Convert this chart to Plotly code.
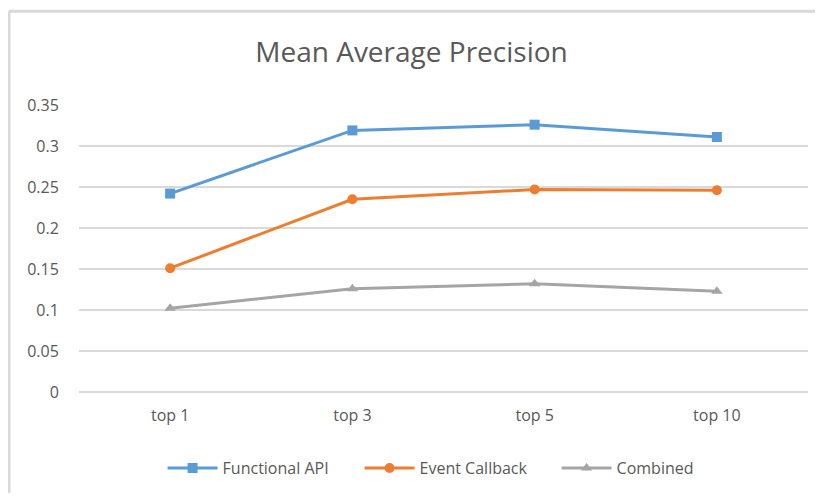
"""Mean Average Precision line chart (Excel style)."""

import plotly.graph_objects as go

# Data
categories = ["top 1", "top 3", "top 5", "top 10"]
functional_api = [0.242, 0.319, 0.326, 0.311]
event_callback = [0.151, 0.235, 0.247, 0.246]
combined = [0.102, 0.126, 0.132, 0.123]
y_ticks = [0, 0.05, 0.1, 0.15, 0.2, 0.25, 0.3, 0.35]
y_tick_labels = ["0", "0.05", "0.1", "0.15", "0.2", "0.25", "0.3", "0.35"]

BLUE = "#5B9BD5"
ORANGE = "#ED7D31"
GRAY = "#A5A5A5"
TEXT = "#595959"
GRID = "#D9D9D9"
FONT = "Open Sans, Lato, sans-serif"

fig = go.Figure()

series = [
    ("Functional API", functional_api, BLUE, "square"),
    ("Event Callback", event_callback, ORANGE, "circle"),
    ("Combined", combined, GRAY, "triangle-up"),
]
for name, vals, color, symbol in series:
    fig.add_trace(go.Scatter(
        x=categories, y=vals, name=name,
        mode="lines+markers",
        line=dict(color=color, width=3),
        marker=dict(color=color, symbol=symbol, size=10),
    ))

# chart border (light gray, only top and left visible)
fig.add_shape(type="line", xref="paper", yref="paper",
              x0=-0.096, x1=1.2, y0=1.3265, y1=1.3265,
              line=dict(color=GRID, width=3))
fig.add_shape(type="line", xref="paper", yref="paper",
              x0=-0.096, x1=-0.096, y0=1.3265, y1=-0.5,
              line=dict(color=GRID, width=3))

# page body adds 8px, so the figure is a bit smaller than the window
fig.update_layout(
    width=807, height=485,
    margin=dict(l=71, r=7, t=97, b=101),
    paper_bgcolor="white",
    plot_bgcolor="white",
    title=dict(text="Mean Average Precision", x=0.5, xanchor="center",
               y=0.909, yanchor="middle",
               font=dict(family=FONT, size=28, color=TEXT)),
    xaxis=dict(
        type="category", range=[-0.5, 3.5],
        showgrid=False, showline=False, zeroline=False,
        tickfont=dict(family=FONT, size=16, color=TEXT),
        ticks="outside", ticklen=9, tickcolor="rgba(0,0,0,0)",
    ),
    yaxis=dict(
        range=[0, 0.35], tickvals=y_ticks, ticktext=y_tick_labels,
        showgrid=True, gridcolor=GRID, gridwidth=1.5,
        zeroline=True, zerolinecolor=GRID, zerolinewidth=1.5,
        showline=False,
        tickfont=dict(family=FONT, size=16, color=TEXT),
        ticks="outside", ticklen=16, tickcolor="rgba(0,0,0,0)",
    ),
    legend=dict(orientation="h", x=0.52, xanchor="center",
                y=-0.265, yanchor="middle",
                font=dict(family=FONT, size=16, color=TEXT),
                itemwidth=50, entrywidth=132, tracegroupgap=0),
    showlegend=True,
)

fig.write_html("out.html")
